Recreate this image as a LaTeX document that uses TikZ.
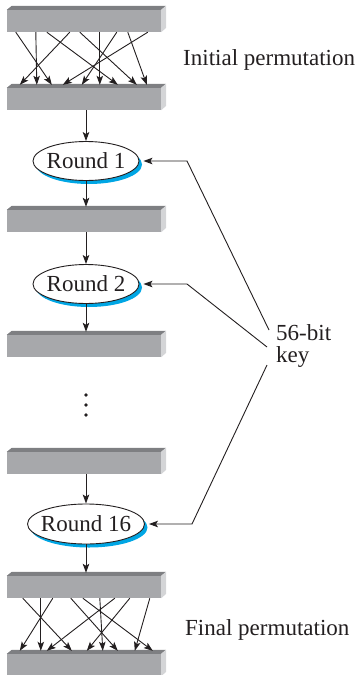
\documentclass[tikz,border=0pt]{standalone}
\usepackage{fontspec}
\setmainfont{Liberation Serif}
\usetikzlibrary{arrows.meta,shapes.geometric,shadows,calc}
\definecolor{barfront}{RGB}{167,168,171}
\definecolor{bartop}{RGB}{126,127,130}
\definecolor{barside}{RGB}{212,213,215}
\definecolor{kblue}{RGB}{0,166,228}
\definecolor{ink}{RGB}{35,31,32}
\begin{document}
\begin{tikzpicture}[x=1pt,y=-1pt,
  barbox/.style={rectangle, minimum width=154pt, minimum height=22pt, inner sep=0pt, fill=barfront, draw=none},
  rnd/.style={ellipse, draw=ink, line width=0.9pt, fill=white, inner sep=0pt,
    font=\rmfamily\fontsize{23}{26}\selectfont, text=ink,
    drop shadow={shadow xshift=3pt, shadow yshift=-3.5pt, fill=kblue, opacity=1}},
  arr/.style={draw=ink, line width=0.9pt, -{Stealth[length=9pt,width=6.5pt,inset=2pt]}},
  lbl/.style={font=\rmfamily\fontsize{23}{26}\selectfont, inner sep=0pt, text=ink},
  dotnode/.style={circle, fill=ink, inner sep=0pt, minimum size=3.8pt},
]
\useasboundingbox (0,0) rectangle (360,675);

% bars
\node[barbox] (b1) at (84,21) {};
\node[barbox] (b2) at (84,99) {};
\node[barbox] (b3) at (84,221) {};
\node[barbox] (b4) at (84,346) {};
\node[barbox] (b5) at (84,463) {};
\node[barbox] (b6) at (84,587) {};
\node[barbox] (b7) at (84,665) {};
\foreach \b in {b1,b2,b3,b4,b5,b6,b7} {
  \fill[bartop] (\b.north west) -- ++(5,-4) -- ++(154,0) -- (\b.north east) -- cycle;
  \fill[barside] (\b.north east) -- ++(5,-4) -- ++(0,22) -- (\b.south east) -- cycle;
}

% rounds
\node[rnd, minimum width=106pt, minimum height=39pt] (r1) at (86,161) {\makebox[0pt][c]{Round 1}};
\node[rnd, minimum width=106pt, minimum height=39pt] (r2) at (86,284) {\makebox[0pt][c]{Round 2}};
\node[rnd, minimum width=117pt, minimum height=40pt] (r16) at (86,524) {\makebox[0pt][c]{Round 16}};

% dots
\node[dotnode] (d1) at (86,395) {};
\node[dotnode] (d2) at (86,405) {};
\node[dotnode] (d3) at (86,415) {};

% vertical flow
\draw[arr] (r1.north |- b2.south) -- (r1.north);
\draw[arr] (r1.south) -- ($(r1.south |- b3.north)+(0,-3)$);
\draw[arr] (r2.north |- b3.south) -- (r2.north);
\draw[arr] (r2.south) -- ($(r2.south |- b4.north)+(0,-3)$);
\draw[arr] (r16.north |- b5.south) -- (r16.north);
\draw[arr] (r16.south) -- ($(r16.south |- b6.north)+(0,-3)$);

% permutations
\foreach \s/\e in {9/45, 29/30, 40/111, 63/13, 73/130, 93/93, 110/75, 121/140, 141/56}
  \draw[arr] ($(b1.south west)+(\s,0)$) -- ($(b2.north west)+(\e,-3)$);
\foreach \s/\e in {16/65, 34/34, 46/13, 64/111, 76/146, 93/96, 108/40, 123/80, 143/128}
  \draw[arr] ($(b6.south west)+(\s,0)$) -- ($(b7.north west)+(\e,-3)$);

% labels
\node[lbl, anchor=base west] (ip) at (183,65) {Initial permutation};
\node[lbl, anchor=base west] (fp) at (185,635) {Final permutation};
\node[lbl, anchor=base west] (key) at (276,340) {56-bit};
\node[lbl, anchor=base west] (keyb) at (276,362) {key};

% key lines
\coordinate (k1) at (269,330);
\coordinate (k2) at (267,347);
\coordinate (k3) at (267,365);
\coordinate (c1) at (187,161);
\coordinate (c2) at (187,284);
\coordinate (c3) at (192,524);
\draw[arr] (k1) -- (c1) -- ([xshift=4pt]r1.east);
\draw[arr] (k2) -- (c2) -- ([xshift=4pt]r2.east);
\draw[arr] (k3) -- (c3) -- ([xshift=4pt]r16.east);
\end{tikzpicture}
\end{document}
